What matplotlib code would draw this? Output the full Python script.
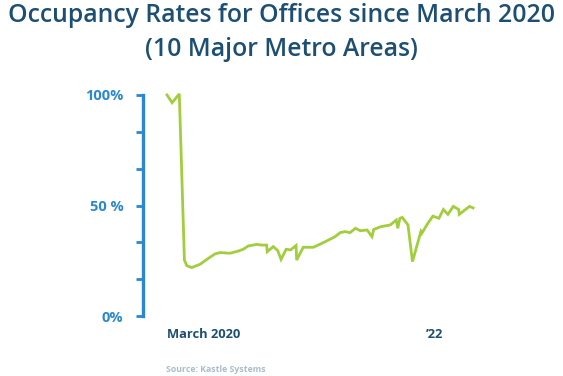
import matplotlib
matplotlib.use("Agg")
import matplotlib.pyplot as plt

# ── data (weeks since early March 2020, occupancy %) ─────────────────────────
weeks = [0, 1.7, 4.1, 5.8, 6.6, 8.2, 11.0, 13.8, 16.0, 17.7, 21.0, 23.8,
         25.4, 27.1, 29.9, 31.6, 33.2, 33.4, 35.4, 36.9, 38.0, 39.7, 41.2,
         43.0, 43.2, 45.4, 48.8, 52.1, 56.0, 57.7, 59.3, 61.0, 62.8, 64.4,
         66.7, 68.3, 68.9, 71.2, 74.4, 76.4, 76.9, 77.6, 78.4, 80.3, 81.8,
         84.6, 84.9, 86.9, 88.6, 90.6, 92.1, 93.6, 95.4, 97.2, 97.4, 100.8,
         102.0]
occupancy = [100.0, 96.5, 100.5, 25.3, 22.8, 21.9, 23.4, 26.1, 28.1, 28.7,
             28.4, 29.4, 30.2, 31.7, 32.4, 32.1, 32.1, 29.1, 31.4, 29.6, 25.6,
             30.2, 29.9, 31.9, 25.3, 31.1, 31.1, 33.2, 35.9, 37.7, 38.2, 37.7,
             39.7, 38.6, 38.9, 35.9, 39.2, 40.4, 41.2, 43.4, 39.7, 44.2, 44.6,
             41.2, 24.6, 38.2, 37.4, 41.9, 45.2, 44.2, 48.2, 46.0, 49.6, 48.2,
             46.0, 49.6, 48.9]

y_ticks = [0, 100 / 6, 200 / 6, 50, 400 / 6, 500 / 6, 100]
y_labels = ["0%", "", "", "50 %", "", "", "100%"]
x_ticks = [12.1, 89.0]
x_labels = ["March 2020", "\u201922"]

TITLE_COLOR = "#1c4f73"
AXIS_BLUE = "#2a88d2"
LINE_GREEN = "#a2cd3c"
SOURCE_GRAY = "#aabdcc"
FONT = "Open Sans"

fig = plt.figure(figsize=(5.63, 3.76), dpi=100)
ax = fig.add_axes([143 / 563, 1 - 316 / 376, (480 - 143) / 563, 221 / 376])

ax.plot(weeks, occupancy, color=LINE_GREEN, linewidth=2.0, clip_on=False,
        solid_joinstyle="miter")

ax.set_xlim(-8, 104.3)
ax.set_ylim(0, 100)

for side in ["top", "right", "bottom"]:
    ax.spines[side].set_visible(False)
ax.spines["left"].set_color(AXIS_BLUE)
ax.spines["left"].set_linewidth(2.4)

ax.set_yticks(y_ticks)
ax.set_yticklabels(y_labels, fontsize=10.5, fontweight="bold", color=AXIS_BLUE,
                   family=FONT)
ax.tick_params(axis="y", length=5, width=2, color=AXIS_BLUE, pad=9)

ax.set_xticks(x_ticks)
ax.set_xticklabels(x_labels, fontsize=9.3, fontweight="bold", color=TITLE_COLOR,
                   family=FONT)
ax.tick_params(axis="x", length=0, pad=9)

fig.text(0.5, 1 - 15 / 376, "Occupancy Rates for Offices since March 2020",
         ha="center", va="center", fontsize=17.8, fontweight="semibold",
         color=TITLE_COLOR, family=FONT)
fig.text(0.5, 1 - 50 / 376, "(10 Major Metro Areas)",
         ha="center", va="center", fontsize=17.8, fontweight="semibold",
         color=TITLE_COLOR, family=FONT)
fig.text(166 / 563, 1 - 369 / 376, "Source: Kastle Systems",
         ha="left", va="center", fontsize=6.3, fontweight="bold",
         color=SOURCE_GRAY, family=FONT)

plt.savefig("out.png", dpi=100)
